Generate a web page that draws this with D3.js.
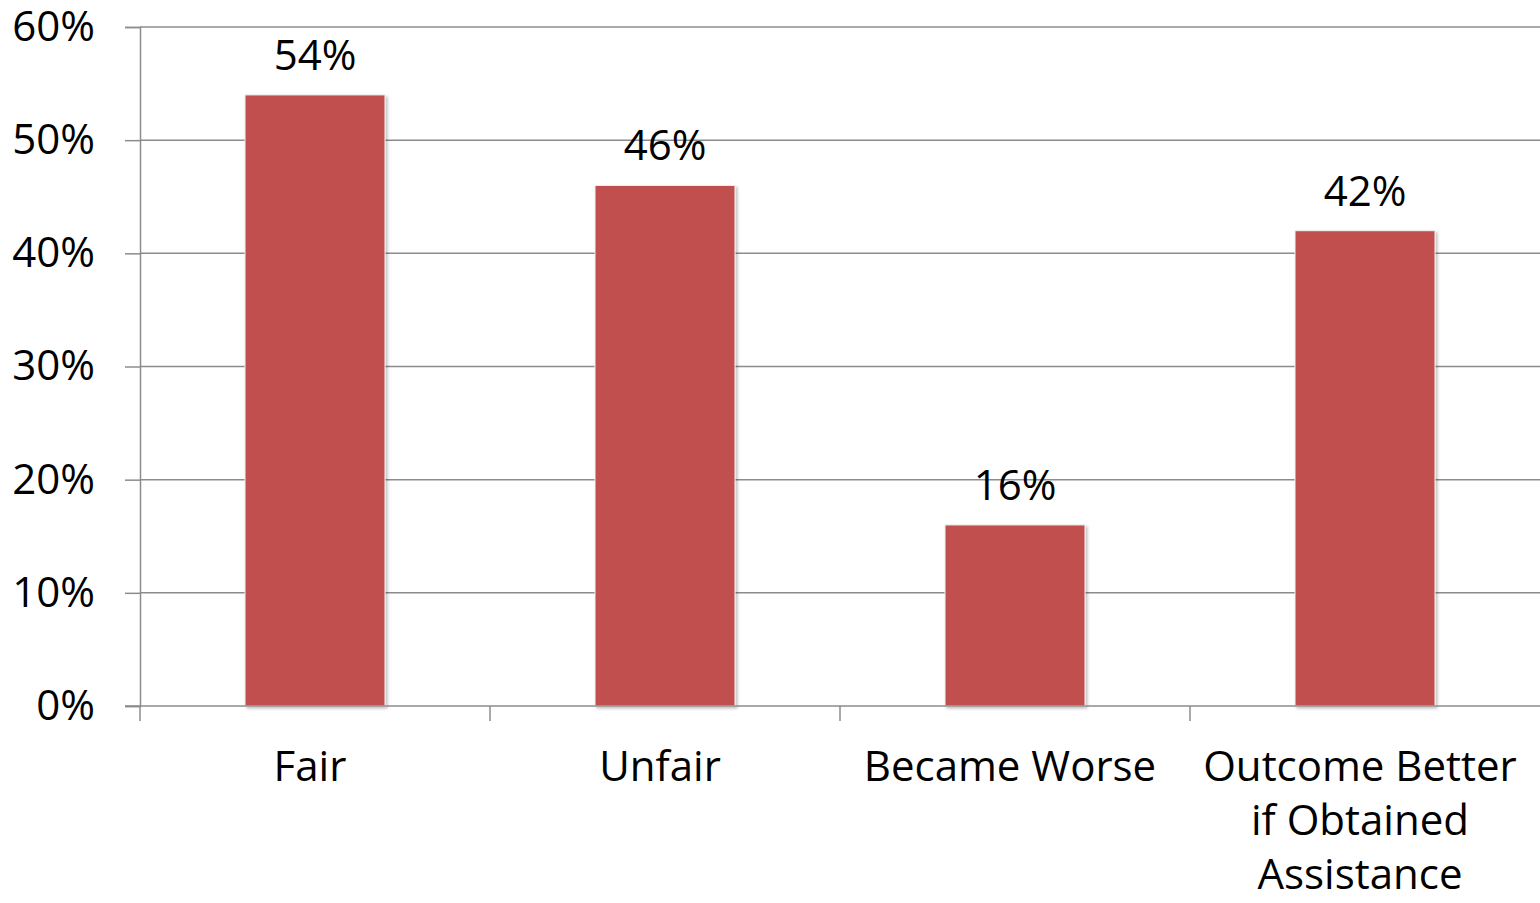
<!DOCTYPE html>
<html>
<head>
<meta charset="utf-8">
<script src="https://cdn.jsdelivr.net/npm/d3@7"></script>
<style>
  body { margin: 0; background: #fff; }
  svg { display: block; font-family: "Open Sans", sans-serif; }
</style>
</head>
<body>
<div id="chart"></div>
<script>
const width = 1540;
const height = 903;

const categories = ["Fair", "Unfair", "Became Worse", "Outcome Better if Obtained Assistance"];
const categoryLines = [["Fair"], ["Unfair"], ["Became Worse"], ["Outcome Better", "if Obtained", "Assistance"]];
const values = [0.54, 0.46, 0.16, 0.42];
const yTicks = [0, 0.1, 0.2, 0.3, 0.4, 0.5, 0.6];

const margin = { top: 27, right: 0, bottom: 197, left: 140 };
const fontSize = 42;

const svg = d3.select("#chart")
    .append("svg")
    .attr("width", width)
    .attr("height", height);

const x = d3.scaleBand()
    .domain(categories)
    .range([margin.left, width - margin.right])
    .paddingInner(0.6)
    .paddingOuter(0.3);

const y = d3.scaleLinear()
    .domain([0, 0.6])
    .range([height - margin.bottom, margin.top]);

// soft shadow like the office chart
const defs = svg.append("defs");
const f = defs.append("filter").attr("id", "shadow")
    .attr("x", "-10%").attr("y", "-10%").attr("width", "130%").attr("height", "130%");
f.append("feDropShadow")
    .attr("dx", 2).attr("dy", 2).attr("stdDeviation", 1.5)
    .attr("flood-color", "#000").attr("flood-opacity", 0.25);

// gridlines
svg.append("g")
    .selectAll("line")
    .data(yTicks.filter(d => d > 0))
    .enter().append("line")
    .attr("x1", margin.left)
    .attr("x2", width)
    .attr("y1", d => y(d))
    .attr("y2", d => y(d))
    .attr("stroke", "#8c8c8c")
    .attr("stroke-width", 1.5);

// y axis
const yAxis = svg.append("g")
    .attr("transform", `translate(${margin.left},0)`)
    .call(d3.axisLeft(y).tickValues(yTicks).tickFormat(d3.format(".0%")).tickSize(15).tickPadding(30));
yAxis.select(".domain").attr("stroke", "#8c8c8c").attr("stroke-width", 1.5);
yAxis.selectAll(".tick line").attr("stroke", "#8c8c8c").attr("stroke-width", 1.5);
yAxis.selectAll(".tick text")
    .attr("font-size", fontSize)
    .attr("font-family", "Open Sans, sans-serif")
    .attr("fill", "#000");

// bars
svg.append("g")
    .selectAll("rect")
    .data(values)
    .enter().append("rect")
    .attr("x", (d, i) => x(categories[i]))
    .attr("y", d => y(d))
    .attr("width", x.bandwidth())
    .attr("height", d => y(0) - y(d))
    .attr("fill", "#C0504D")
    .attr("stroke", "#f2f2f2")
    .attr("stroke-width", 1)
    .attr("filter", "url(#shadow)");

// x axis line and ticks at category boundaries
const step = x.step();
const boundaries = d3.range(categories.length).map(i => margin.left + i * step);
svg.append("line")
    .attr("x1", margin.left - 15)
    .attr("x2", width)
    .attr("y1", y(0))
    .attr("y2", y(0))
    .attr("stroke", "#8c8c8c")
    .attr("stroke-width", 1.5);
svg.append("g")
    .selectAll("line")
    .data(boundaries)
    .enter().append("line")
    .attr("x1", d => d)
    .attr("x2", d => d)
    .attr("y1", y(0))
    .attr("y2", y(0) + 15)
    .attr("stroke", "#8c8c8c")
    .attr("stroke-width", 1.5);

// value labels
svg.append("g")
    .selectAll("text")
    .data(values)
    .enter().append("text")
    .attr("x", (d, i) => x(categories[i]) + x.bandwidth() / 2)
    .attr("y", d => y(d) - 25)
    .attr("text-anchor", "middle")
    .attr("font-size", fontSize)
    .attr("fill", "#000")
    .text(d => d3.format(".0%")(d));

// category labels
const catG = svg.append("g");
categoryLines.forEach((lines, i) => {
    const cx = x(categories[i]) + x.bandwidth() / 2 - 5;
    const t = catG.append("text")
        .attr("x", cx)
        .attr("y", 781)
        .attr("text-anchor", "middle")
        .attr("font-size", fontSize)
        .attr("fill", "#000");
    lines.forEach((ln, j) => {
        t.append("tspan")
            .attr("x", cx)
            .attr("dy", j === 0 ? 0 : 54)
            .text(ln);
    });
});
</script>
</body>
</html>
